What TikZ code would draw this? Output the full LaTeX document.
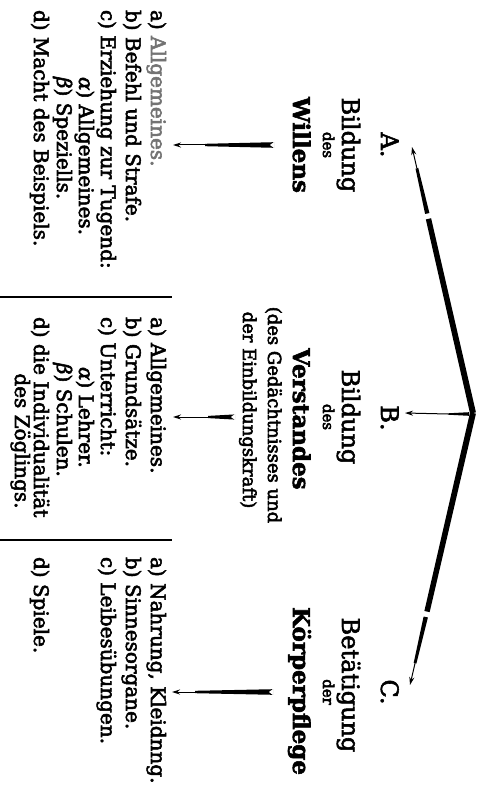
\documentclass[tikz,border=0pt]{standalone}
\usepackage{fontspec}
\setmainfont{DejaVu Serif}
\usetikzlibrary{arrows.meta,calc}
\tikzset{
  rot/.style={rotate=-90, inner sep=0pt, outer sep=0pt,
    execute at begin node={\special{pdf:literal direct 2 Tr 0.55 w}},
    execute at end node={\special{pdf:literal direct 0 Tr}}},
  headtxt/.style={rot, anchor=base, font=\fontsize{24}{28}\selectfont},
  smalltxt/.style={rot, anchor=base, font=\fontsize{15}{18}\selectfont},
  heavytxt/.style={rot, anchor=base, font=\fontsize{23}{28}\selectfont\bfseries},
  parentxt/.style={rot, anchor=base, font=\fontsize{18}{22}\selectfont},
  itemtxt/.style={rot, anchor=base west, font=\fontsize{20}{25}\selectfont},
  itemc/.style={rot, anchor=base, font=\fontsize{20}{25}\selectfont},
  septxt/.style={line width=1.3pt},
  thinarrow/.style={line width=1pt, -{Stealth[length=8pt,width=5pt]}},
}
\newcommand\taperseg[4]{\fill ($(#1)!#3!90:(#2)$) -- ($(#2)!#4!-90:(#1)$) -- ($(#2)!#4!90:(#1)$) -- ($(#1)!#3!-90:(#2)$) -- cycle;}
\begin{document}
\begin{tikzpicture}[x=1pt,y=-1pt]
\useasboundingbox (0,0) rectangle (482,791);

% ---- headings ----
\node[headtxt]  (hA1) at (381,145) {A.};
\node[headtxt]  (hA2) at (342,145) {Bildung};
\node[smalltxt] (hA3) at (323,145) {des};
\node[heavytxt] (hA4) at (293,145) {Willens};

\node[headtxt]  (hB1) at (381,418) {B.};
\node[headtxt]  (hB2) at (342,417) {Bildung};
\node[smalltxt] (hB3) at (323,417) {des};
\node[heavytxt] (hB4) at (293,419) {Verstandes};
\node[parentxt] (hB5) at (268,415) {(des Gedächtnisses und};
\node[parentxt] (hB6) at (243,410) {der Einbildungskraft)};

\node[headtxt]  (hC1) at (381,692) {C.};
\node[headtxt]  (hC2) at (342,685) {Betätigung};
\node[smalltxt] (hC3) at (323,692) {der};
\node[heavytxt] (hC4) at (293,691) {Körperpflege};

% ---- lists ----
\node[itemtxt] (lA1) at (151,10) {a) \textcolor{black!55}{Allgemeines.}};
\node[itemtxt] (lA2) at (126,10) {b) Befehl und Strafe.};
\node[itemtxt] (lA3) at (101,10) {c) Erziehung zur Tugend:};
\node[itemtxt] (lA4) at (79,77) {\textit{α}) Allgemeines.};
\node[itemtxt] (lA5) at (57,77) {\textit{β}) Speziells.};
\node[itemtxt] (lA6) at (34,10) {d) Macht des Beispiels.};

\node[itemtxt] (lB1) at (151,317) {a) Allgemeines.};
\node[itemtxt] (lB2) at (126,317) {b) Grundsätze.};
\node[itemtxt] (lB3) at (101,317) {c) Unterricht:};
\node[itemtxt] (lB4) at (79,367) {\textit{α}) Lehrer.};
\node[itemtxt] (lB5) at (57,363) {\textit{β}) Schulen.};
\node[itemtxt] (lB6) at (34,317) {d) die Individualität};
\node[itemc]   (lB7) at (15,441) {des Zöglings.};

\node[itemtxt] (lC1) at (151,557) {a) Nahrung, Kleidnng.};
\node[itemtxt] (lC2) at (126,557) {b) Sinnesorgane.};
\node[itemtxt] (lC3) at (101,557) {c) Leibesübungen.};
\node[itemtxt] (lC4) at (34,557) {d) Spiele.};

% ---- separators ----
\coordinate (s1a) at (0,297);   \coordinate (s1b) at (172,297);
\coordinate (s2a) at (0,540);   \coordinate (s2b) at (172,540);
\draw[septxt] (s1a) -- (s1b);
\draw[septxt] (s2a) -- (s2b);

% ---- big V ----
\coordinate (V) at (473,413);
\coordinate (tA) at (412,147);
\coordinate (tB) at (405,413);
\coordinate (tC) at (410,685);
\coordinate (vA1) at ($(V)!0.73!(tA)$);
\coordinate (vA2) at ($(V)!0.75!(tA)$);
\coordinate (vA3) at ($(V)!0.92!(tA)$);
\coordinate (vC1) at ($(V)!0.73!(tC)$);
\coordinate (vC2) at ($(V)!0.75!(tC)$);
\coordinate (vC3) at ($(V)!0.92!(tC)$);
\taperseg{V}{vA1}{3pt}{2.7pt}
\taperseg{vA2}{vA3}{2.2pt}{1.4pt}
\draw[thinarrow] (vA3) -- (tA);
\taperseg{V}{vC1}{3pt}{2.7pt}
\taperseg{vC2}{vC3}{2.2pt}{1.4pt}
\draw[thinarrow] (vC3) -- (tC);
\coordinate (vB0) at (469,414);
\coordinate (vB1) at (448,414);
\taperseg{vB0}{vB1}{1.8pt}{0.7pt}
\draw[thinarrow] (vB1) -- (tB);

% ---- small arrows ----
\coordinate (aT) at (274,145); \coordinate (aM) at (205,145); \coordinate (aH) at (173,145);
\taperseg{aT}{aM}{2.8pt}{1.2pt}
\draw[thinarrow] (aM) -- (aH);
\fill[white] (274.5,141.5) -- (274.5,148.5) -- (270,145) -- cycle;

\coordinate (bT) at (235,417); \coordinate (bM) at (208,417); \coordinate (bH) at (173,417);
\taperseg{bT}{bM}{2.6pt}{1.1pt}
\draw[thinarrow] (bM) -- (bH);
\fill[white] (235.5,413.5) -- (235.5,420.5) -- (231,417) -- cycle;

\coordinate (cT) at (273,692); \coordinate (cM) at (195,692); \coordinate (cH) at (172,692);
\taperseg{cT}{cM}{2.8pt}{1.2pt}
\draw[thinarrow] (cM) -- (cH);
\fill[white] (273.5,688.5) -- (273.5,695.5) -- (269,692) -- cycle;
\end{tikzpicture}
\end{document}
